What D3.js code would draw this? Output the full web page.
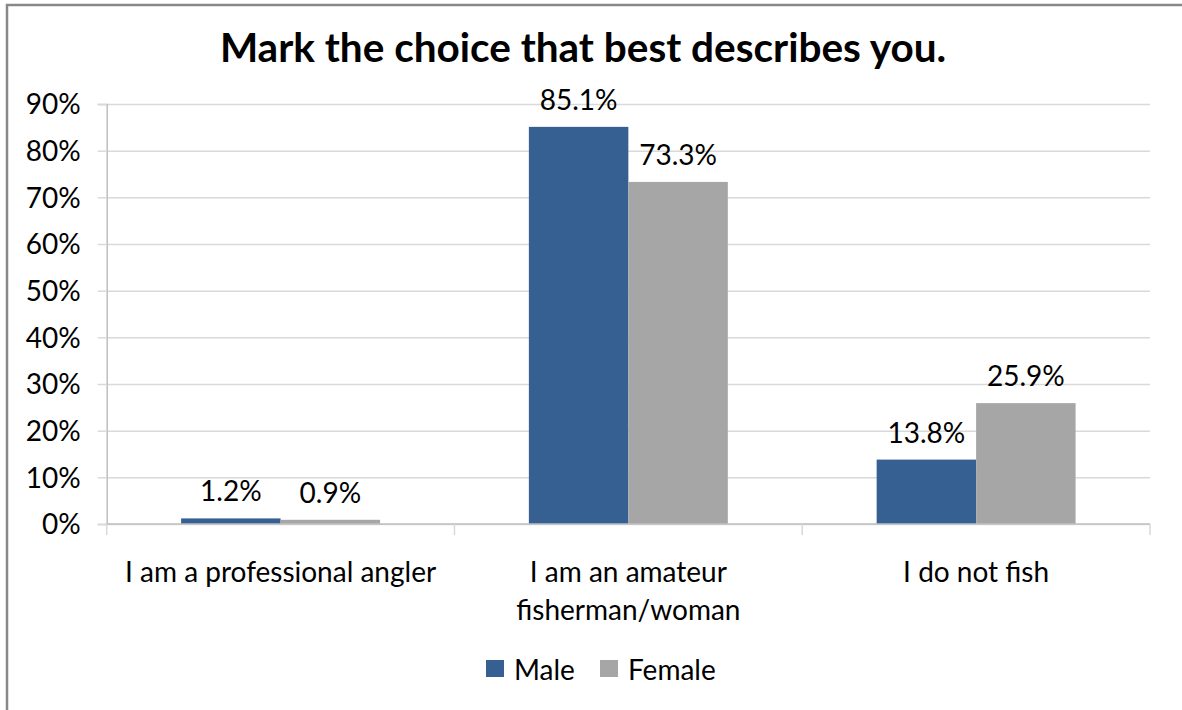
<!DOCTYPE html>
<html>
<head>
  <meta charset="utf-8">
  <title>Mark the choice that best describes you.</title>
  <script src="https://d3js.org/d3.v7.min.js"></script>
  <style>
    body { margin: 0; background: #fff; }
    svg text { font-family: Lato, "Open Sans", sans-serif; fill: #000; }
  </style>
</head>
<body>
  <div id="chart"></div>

  <script>
    // data
    var categories = ['I am a professional angler', 'I am an amateur fisherman/woman', 'I do not fish'];
    var categoryLines = [['I am a professional angler'], ['I am an amateur', 'fisherman/woman'], ['I do not fish']];
    var seriesNames = ['Male', 'Female'];
    var maleValues = [1.2, 85.1, 13.8];
    var femaleValues = [0.9, 73.3, 25.9];
    var yTicks = [0, 10, 20, 30, 40, 50, 60, 70, 80, 90];
    var colors = ['#376092', '#a6a6a6'];

    var W = 1182, H = 710;
    var margin = { top: 104, right: 32, bottom: 186, left: 106.7 };
    var width = W - margin.left - margin.right;
    var height = H - margin.top - margin.bottom;

    var svg = d3.select('#chart').append('svg')
      .attr('width', W)
      .attr('height', H);

    // outer frame (runs off right and bottom edge)
    svg.append('rect')
      .attr('x', 7)
      .attr('y', 5)
      .attr('width', W + 20)
      .attr('height', H + 20)
      .attr('fill', 'none')
      .attr('stroke', '#888')
      .attr('stroke-width', 2.5);

    svg.append('text')
      .attr('x', 583)
      .attr('y', 62)
      .attr('text-anchor', 'middle')
      .style('font-size', '40.5px')
      .style('font-weight', 'bold')
      .text('Mark the choice that best describes you.');

    var g = svg.append('g')
      .attr('transform', 'translate(' + margin.left + ',' + margin.top + ')');

    var x0 = d3.scaleBand()
      .domain(categories)
      .range([0, width])
      .padding(0);

    var x1 = d3.scaleBand()
      .domain(seriesNames)
      .range([0, x0.bandwidth()])
      .paddingInner(0)
      .paddingOuter(0.748);

    var y = d3.scaleLinear()
      .domain([0, 90])
      .range([height, 0]);

    // gridlines
    g.append('g')
      .call(d3.axisLeft(y).tickValues(yTicks).tickSize(-width).tickFormat(''))
      .call(function(a) {
        a.select('.domain').remove();
        a.selectAll('line').attr('stroke', '#d9d9d9').attr('stroke-width', 1.5);
      });

    // y axis
    g.append('g')
      .call(d3.axisLeft(y).tickValues(yTicks).tickSize(9).tickPadding(17).tickFormat(function(d) { return d + '%'; }))
      .call(function(a) {
        a.select('.domain').attr('stroke', '#bfbfbf').attr('stroke-width', 1.5);
        a.selectAll('line').attr('stroke', '#d9d9d9').attr('stroke-width', 1.5);
        a.selectAll('text').style('font-size', '28px').attr('dy', '0.35em');
      });

    // bars
    var series = [maleValues, femaleValues];
    seriesNames.forEach(function(name, si) {
      var grp = g.append('g').attr('class', 'series');
      grp.selectAll('rect')
        .data(series[si])
        .enter()
        .append('rect')
        .attr('x', function(d, i) { return x0(categories[i]) + x1(name); })
        .attr('y', function(d) { return y(d); })
        .attr('width', x1.bandwidth())
        .attr('height', function(d) { return height - y(d); })
        .attr('fill', colors[si]);

      grp.selectAll('text')
        .data(series[si])
        .enter()
        .append('text')
        .attr('x', function(d, i) { return x0(categories[i]) + x1(name) + x1.bandwidth() / 2; })
        .attr('y', function(d) { return y(d) - 17; })
        .attr('text-anchor', 'middle')
        .style('font-size', '28px')
        .text(function(d) { return d.toFixed(1) + '%'; });
    });

    // x axis with ticks at category boundaries
    var boundaries = d3.range(categories.length + 1).map(function(i) { return i * x0.step(); });
    var xa = g.append('g').attr('transform', 'translate(0,' + height + ')');
    xa.append('line')
      .attr('x1', 0).attr('x2', width)
      .attr('stroke', '#bfbfbf').attr('stroke-width', 1.5);
    xa.selectAll('.tick')
      .data(boundaries)
      .enter()
      .append('line')
      .attr('x1', function(d) { return d; })
      .attr('x2', function(d) { return d; })
      .attr('y1', 0).attr('y2', 11)
      .attr('stroke', '#d9d9d9').attr('stroke-width', 1.5);

    var labels = xa.selectAll('.cat')
      .data(categories)
      .enter()
      .append('text')
      .attr('class', 'cat')
      .attr('x', function(d) { return x0(d) + x0.bandwidth() / 2; })
      .attr('y', 58)
      .attr('text-anchor', 'middle')
      .style('font-size', '28px');
    labels.each(function(d, i) {
      var t = d3.select(this);
      categoryLines[i].forEach(function(line, li) {
        t.append('tspan')
          .attr('x', x0(d) + x0.bandwidth() / 2)
          .attr('dy', li === 0 ? 0 : 38)
          .text(line);
      });
    });

    // legend
    var legend = svg.append('g');
    var legendX = [486, 600];
    seriesNames.forEach(function(name, i) {
      legend.append('rect')
        .attr('x', legendX[i])
        .attr('y', 660)
        .attr('width', 18)
        .attr('height', 17)
        .attr('fill', colors[i]);
      legend.append('text')
        .attr('x', legendX[i] + 28)
        .attr('y', 680)
        .style('font-size', '28px')
        .text(name);
    });
  </script>
</body>
</html>
